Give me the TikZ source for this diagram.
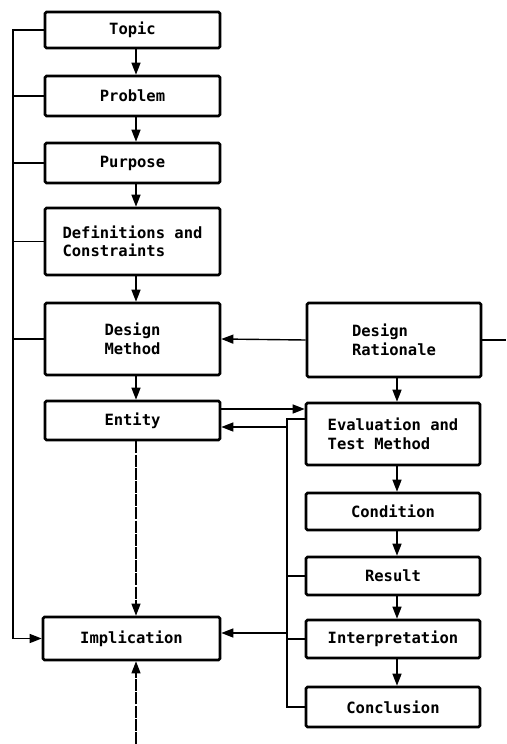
\documentclass[tikz,border=0pt]{standalone}
\usepackage{fontspec}
\newfontfamily\lblfont{DejaVu Sans Mono}
\usetikzlibrary{arrows.meta}
\begin{document}
\begin{tikzpicture}[x=1pt,y=-1pt,
  box/.style={draw, line width=2.6pt, rounded corners=1.5pt, inner sep=0pt,
    align=left, font=\lblfont\bfseries\fontsize{15.5}{18.5}\selectfont},
  lbox/.style={box, minimum width=175pt},
  rbox/.style={box, minimum width=174pt},
  conn/.style={line width=1.4pt},
  arr/.style={conn, -{Triangle[length=12pt,width=9pt]}},
  weak/.style={arr, line width=1.1pt, dash pattern=on 12pt off 1.2pt}]
\useasboundingbox (0,0) rectangle (506,744);

% left column
\node[lbox, minimum height=36pt] (topic)   at (132.5,30)    {Topic};
\node[lbox, minimum height=40pt] (problem) at (132.5,96)    {Problem};
\node[lbox, minimum height=40pt] (purpose) at (132.5,163)   {Purpose};
\node[lbox, minimum height=67pt] (defs)    at (132.5,241.5) {Definitions and\\Constraints};
\node[lbox, minimum height=72pt] (method)  at (132.5,339)   {Design\\Method};
\node[lbox, minimum height=39pt] (entity)  at (132.5,420.5) {Entity};
\node[lbox, minimum height=43pt, minimum width=177pt] (implic) at (131.5,638.5) {Implication};

% right column
\node[rbox, minimum height=74pt] (rationale) at (394,340)   {Design\\Rationale};
\node[rbox, minimum height=62pt] (evalm)     at (393,434)   {Evaluation and\\Test Method};
\node[rbox, minimum height=37pt] (cond)      at (393,511.5) {Condition};
\node[rbox, minimum height=38pt] (result)    at (393,576)   {Result};
\node[rbox, minimum height=38pt] (interp)    at (393,639)   {Interpretation};
\node[rbox, minimum height=40pt] (concl)     at (393,707)   {Conclusion};

% guide coordinates
\coordinate (lc) at (136,0);     % left column arrows
\coordinate (rc) at (397,0);     % right column arrows
\coordinate (lbus) at (13,0);    % left feedback bus
\coordinate (rbus) at (287,0);   % evaluation bus
\coordinate (edge) at (506,340); % line leaving to the right
\coordinate (src) at (136,744);  % incoming line from below

% left column chain
\draw[arr] (topic.south -| lc) -- (problem.north -| lc);
\draw[arr] (problem.south -| lc) -- (purpose.north -| lc);
\draw[arr] (purpose.south -| lc) -- (defs.north -| lc);
\draw[arr] (defs.south -| lc) -- (method.north -| lc);
\draw[arr] (method.south -| lc) -- (entity.north -| lc);
\draw[weak] (entity.south -| lc) -- (implic.north -| lc);
\draw[weak] (src) -- (implic.south -| lc);

% left bus into Implication
\draw[arr] (topic.west) -- (topic.west -| lbus) -- (implic.west -| lbus) -- (implic.west);
\draw[conn] (problem.west) -- (problem.west -| lbus);
\draw[conn] (purpose.west) -- (purpose.west -| lbus);
\draw[conn] (defs.west) -- (defs.west -| lbus);
\draw[conn] (method.west) -- (method.west -| lbus);

% rationale links
\draw[arr] (rationale.west) -- (method.east);
\draw[conn] (rationale.east) -- (edge);
\draw[arr] (rationale.south -| rc) -- (evalm.north -| rc);

% right column chain
\draw[arr] (evalm.south -| rc) -- (cond.north -| rc);
\draw[arr] (cond.south -| rc) -- (result.north -| rc);
\draw[arr] (result.south -| rc) -- (interp.north -| rc);
\draw[arr] (interp.south -| rc) -- (concl.north -| rc);

% entity to evaluation
\draw[arr] (entity.east |- 0,409) -- (evalm.west |- 0,409);

% evaluation bus
\draw[conn] (evalm.west |- 0,419) -- (rbus |- 0,419) -- (concl.west -| rbus) -- (concl.west);
\draw[conn] (result.west) -- (result.west -| rbus);
\draw[conn] (interp.west) -- (interp.west -| rbus);
\draw[arr] (rbus |- 0,427) -- (entity.east |- 0,427);
\draw[arr] (rbus |- 0,633) -- (implic.east |- 0,633);
\end{tikzpicture}
\end{document}
